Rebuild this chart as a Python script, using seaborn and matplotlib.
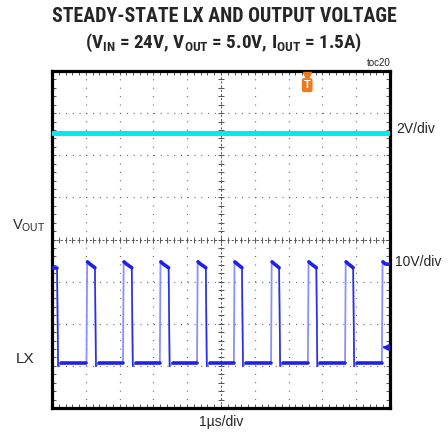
import numpy as np
import pandas as pd
import matplotlib
matplotlib.use("Agg")
import matplotlib.pyplot as plt
import seaborn as sns

# VOUT channel: 2V/div, ground at the centre line
vout_time = [-5.0, 5.0]
vout_volts = [5.06, 5.06]
vout_scale = 2.0
vout_offset = 0.0

# LX channel: 10V/div, edge times in us (centre of screen = 0)
lx_rise = [-3.98, -2.90, -1.81, -0.71, 0.38, 1.48, 2.57, 3.67, 4.76]
lx_fall = [-4.85, -3.73, -2.64, -1.55, -0.45, 0.62, 1.72, 2.82, 3.91]
lx_low = 0.0
lx_peak = 24.0
lx_top = 22.6
lx_under = -0.8
lx_scale = 10.0
lx_offset = -2.93
lx_gnd_marker = -2.55   # divisions
trig_time = 2.55

sns.set_style("white")
plt.rcParams["font.family"] = ["Liberation Sans", "DejaVu Sans"]
plt.rcParams["mathtext.fontset"] = "custom"
plt.rcParams["mathtext.rm"] = "Liberation Sans"
plt.rcParams["mathtext.bf"] = "Roboto Condensed:bold"
plt.rcParams["lines.scale_dashes"] = False

# build the LX trace from the edge lists
pts = [(-5.0, lx_top)]
for i in range(len(lx_fall)):
    f = lx_fall[i]
    pts += [(f, lx_top), (f + 0.03, lx_under), (f + 0.12, lx_low)]
    if i < len(lx_rise):
        r = lx_rise[i]
        pts += [(r, lx_low), (r + 0.02, lx_peak), (r + 0.1, lx_peak - 0.5)]
pts.append((5.0, lx_peak - 0.5))
lx = pd.DataFrame(pts, columns=["t", "v"])
lx["div"] = lx["v"] / lx_scale + lx_offset

# flat parts drawn thicker (scope trace noise band)
segs = []
k = 0
segs.append((k, -5.0, lx_top)); segs.append((k, lx_fall[0], lx_top)); k += 1
for i in range(len(lx_rise)):
    segs.append((k, lx_fall[i] + 0.12, lx_low)); segs.append((k, lx_rise[i], lx_low)); k += 1
    end = lx_fall[i + 1] if i + 1 < len(lx_fall) else 5.0
    segs.append((k, lx_rise[i] + 0.03, lx_peak)); segs.append((k, lx_rise[i] + 0.1, lx_peak - 0.5))
    segs.append((k, end, lx_top if i + 1 < len(lx_fall) else lx_peak - 0.6)); k += 1
flat = pd.DataFrame(segs, columns=["seg", "t", "v"])
flat["div"] = flat["v"] / lx_scale + lx_offset

# falling edges are brighter on the scope
falls = pd.DataFrame([(i, f, v) for i, f in enumerate(lx_fall)
                      for f, v in [(f, lx_top), (f + 0.03, lx_under)]],
                     columns=["seg", "t", "v"])
falls["div"] = falls["v"] / lx_scale + lx_offset

vout = pd.DataFrame({"t": vout_time, "div": np.array(vout_volts) / vout_scale + vout_offset})

fig = plt.figure(figsize=(4.48, 4.32), dpi=100)
ax = fig.add_axes([52 / 448, 1 - 408 / 432, 338 / 448, 337 / 432])
ax.set_xlim(-5, 5)
ax.set_ylim(-4, 4)

# graticule
for x in range(-4, 5):
    ax.axvline(x, color="#666666", lw=0.9, ls=(0, (0.7, 5.36)), zorder=1)
for y in range(-3, 4):
    ax.axhline(y, color="#666666", lw=0.9, ls=(0, (0.7, 4.17)), zorder=1)
minor_x = np.arange(-5, 5.01, 0.2)
minor_y = np.arange(-4, 4.01, 0.2)
ax.axhline(0, color="#555555", lw=0.7, ls=(0, (1.5, 1.5)), zorder=1)
ax.axvline(0, color="#555555", lw=0.7, ls=(0, (1.5, 1.5)), zorder=1)
ax.plot(minor_x, np.zeros_like(minor_x), ls="none", marker="|", ms=4, mew=0.7, color="#555555", zorder=1)
ax.plot(np.zeros_like(minor_y), minor_y, ls="none", marker="_", ms=4, mew=0.7, color="#555555", zorder=1)

sns.lineplot(data=vout, x="t", y="div", color="#00eaf0", lw=3.6, ax=ax, zorder=3)
sns.lineplot(data=lx, x="t", y="div", color="#8a90ff", lw=1.3, ax=ax, sort=False, estimator=None, zorder=3)
sns.lineplot(data=falls, x="t", y="div", units="seg", estimator=None, sort=False,
             color="#2a2ee8", lw=1.1, ax=ax, zorder=4)
sns.lineplot(data=flat, x="t", y="div", units="seg", estimator=None, sort=False,
             color="#1f22e6", lw=2.6, ax=ax, zorder=4)

# ground marker for LX and trigger marker
ax.plot([4.82, 5.0], [lx_gnd_marker, lx_gnd_marker], color="#1f22e6", lw=1.5, zorder=5)
ax.plot([4.88], [lx_gnd_marker], marker="<", ms=5, color="#1f22e6", zorder=5)
trans = matplotlib.transforms.blended_transform_factory(ax.transData, ax.transAxes)
ax.plot([trig_time], [0.985], marker="v", ms=5.5, color="#f07a1a", transform=trans, clip_on=False, zorder=6)
ax.text(trig_time, 0.958, "T", transform=trans, ha="center", va="center", color="white",
        fontsize=8, fontweight="bold",
        bbox=dict(boxstyle="round,pad=0.18", fc="#f07a1a", ec="none"), zorder=6)

ax.set_xlabel("")
ax.set_ylabel("")
ax.set_xticks(np.arange(-5, 5.01, 1))
ax.set_yticks(np.arange(-4, 4.01, 1))
ax.set_xticks(minor_x, minor=True)
ax.set_yticks(minor_y, minor=True)
ax.tick_params(which="both", direction="in", length=3, width=0.7, color="#555555",
               top=True, right=True, bottom=True, left=True,
               labelbottom=False, labelleft=False)
for s in ax.spines.values():
    s.set_linewidth(2.3)
    s.set_color("black")
    s.set_visible(True)

def fy(y):
    return 1 - y / 432

narrow = ["Roboto Condensed", "DejaVu Sans"]
fig.text(224 / 448, fy(17), "STEADY-STATE LX AND OUTPUT VOLTAGE", ha="center", va="center",
         fontsize=14.3, fontweight="bold", family=narrow)
fig.text(224 / 448, fy(43),
         r"(V$_{\mathbf{IN}}$ = 24V, V$_{\mathbf{OUT}}$ = 5.0V, I$_{\mathbf{OUT}}$ = 1.5A)",
         ha="center", va="center", fontsize=13.8, fontweight="bold", family=narrow)
fig.text(391 / 448, fy(63), "toc20", ha="right", va="center", fontsize=7)
fig.text(396 / 448, fy(129), "2V/div", ha="left", va="center", fontsize=10)
fig.text(395 / 448, fy(262), "10V/div", ha="left", va="center", fontsize=10)
fig.text(12 / 448, fy(226), r"V$_{\mathrm{OUT}}$", ha="left", va="center", fontsize=10.5)
fig.text(16 / 448, fy(359), "LX", ha="left", va="center", fontsize=11)
fig.text(221 / 448, fy(422), "1µs/div", ha="center", va="center", fontsize=10)

fig.savefig("out.png", dpi=100)
